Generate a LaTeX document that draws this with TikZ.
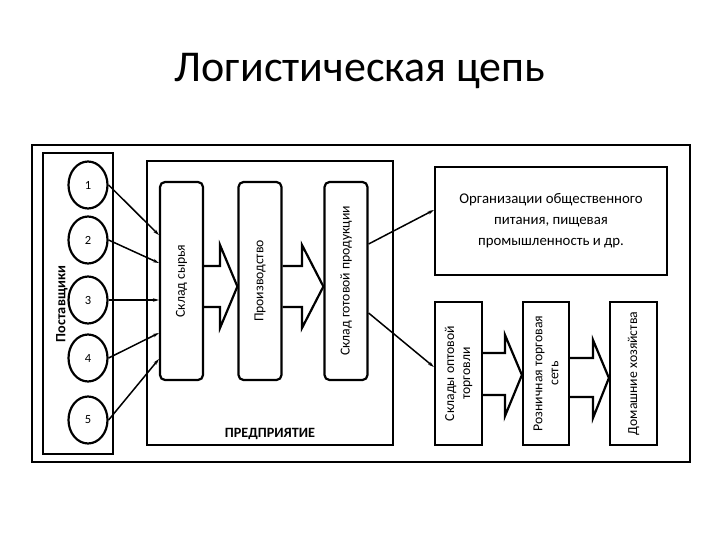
\documentclass[tikz,border=0pt]{standalone}
\usepackage{fontspec}
\setmainfont{Carlito}
\usetikzlibrary{arrows.meta,calc,shapes.geometric}
\begin{document}
\begin{tikzpicture}[x=1pt,y=-1pt,
  frame/.style={draw,line width=2.2pt},
  rbox/.style={draw,line width=2.2pt,rounded corners=5pt,minimum width=43pt,minimum height=198pt,inner sep=0pt},
  sbox/.style={draw,line width=2.2pt,inner sep=0pt},
  sup/.style={draw,ellipse,line width=2.2pt,minimum width=39pt,minimum height=47pt,inner sep=0pt,font=\fontsize{12.5}{15}\selectfont},
  conn/.style={line width=1.5pt,-{Stealth[length=6pt,width=3.5pt]}},
  blk/.style={line width=2.2pt,line join=miter},
  lbl/.style={font=\fontsize{13.7}{16}\selectfont,align=center},
  blbl/.style={font=\bfseries\fontsize{14.2}{17}\selectfont}]
\useasboundingbox (0,0) rectangle (720,540);
\fill[white] (0,0) rectangle (720,540);
\node[font=\fontsize{44}{52}\selectfont] (title) at (360,71) {Логистическая цепь};
% outer frame
\draw[frame] (32,145) rectangle (690,462);
% suppliers
\draw[frame] (43,153) rectangle (113,454);
\node[blbl,rotate=90] (post) at (62,304) {Поставщики};
\node[sup] (c1) at (88,185) {1};
\node[sup] (c2) at (88,240) {2};
\node[sup] (c3) at (88,300) {3};
\node[sup] (c4) at (88,358) {4};
\node[sup] (c5) at (88,420) {5};
% enterprise
\draw[frame] (147,161) rectangle (393,445);
\node[blbl] (pred) at (270,434) {ПРЕДПРИЯТИЕ};
\node[rbox] (s1) at (181.5,281) {};
\node[lbl,rotate=90] at (s1) {Склад сырья};
\node[rbox] (s2) at (260,281) {};
\node[lbl,rotate=90] at (s2) {Производство};
\node[rbox] (s3) at (346,281) {};
\node[lbl,rotate=90] at (s3) {Склад готовой продукции};
% block arrows
\draw[blk] (s1.east |- 0,266) -- (220,266) -- (220,245) -- (s2.west |- 0,286.5) -- (220,328) -- (220,307) -- (s1.east |- 0,307);
\draw[blk] (s2.east |- 0,266) -- (302,266) -- (302,245) -- (s3.west |- 0,286.5) -- (302,328) -- (302,307) -- (s2.east |- 0,307);
% supplier connectors
\draw[conn] (c1.east) -- (s1.west |- 0,235);
\draw[conn] (c2.east) -- (s1.west |- 0,263);
\draw[conn] (c3.east) -- (s1.west |- 0,300);
\draw[conn] (c4.east) -- (s1.west |- 0,333);
\draw[conn] (c5.east) -- (s1.west |- 0,359);
% consumers
\node[sbox,minimum width=232pt,minimum height=108pt] (org) at (551,221) {};
\node[lbl,font=\fontsize{14.8}{21}\selectfont] at (org) {Организации общественного\\питания, пищевая\\промышленность и др.};
\node[sbox,minimum width=47pt,minimum height=143pt] (w1) at (458.5,373.5) {};
\node[lbl,rotate=90] at (w1) {Склады оптовой\\торговли};
\node[sbox,minimum width=46pt,minimum height=143pt] (w2) at (546,373.5) {};
\node[lbl,rotate=90] at (w2) {Розничная торговая\\сеть};
\node[sbox,minimum width=47pt,minimum height=143pt] (w3) at (633.5,373.5) {};
\node[lbl,rotate=90] at (w3) {Домашние хозяйства};
\draw[conn] (s3.east |- 0,244) -- (org.west |- 0,210);
\draw[conn] (s3.east |- 0,313) -- (w1.west |- 0,367);
\draw[blk] (w1.east |- 0,353) -- (505,353) -- (505,335) -- (w2.west |- 0,375) -- (505,416) -- (505,395) -- (w1.east |- 0,395);
\draw[blk] (w2.east |- 0,358) -- (593,358) -- (593,340) -- (w3.west |- 0,378) -- (593,418) -- (593,397) -- (w2.east |- 0,397);
\end{tikzpicture}
\end{document}
